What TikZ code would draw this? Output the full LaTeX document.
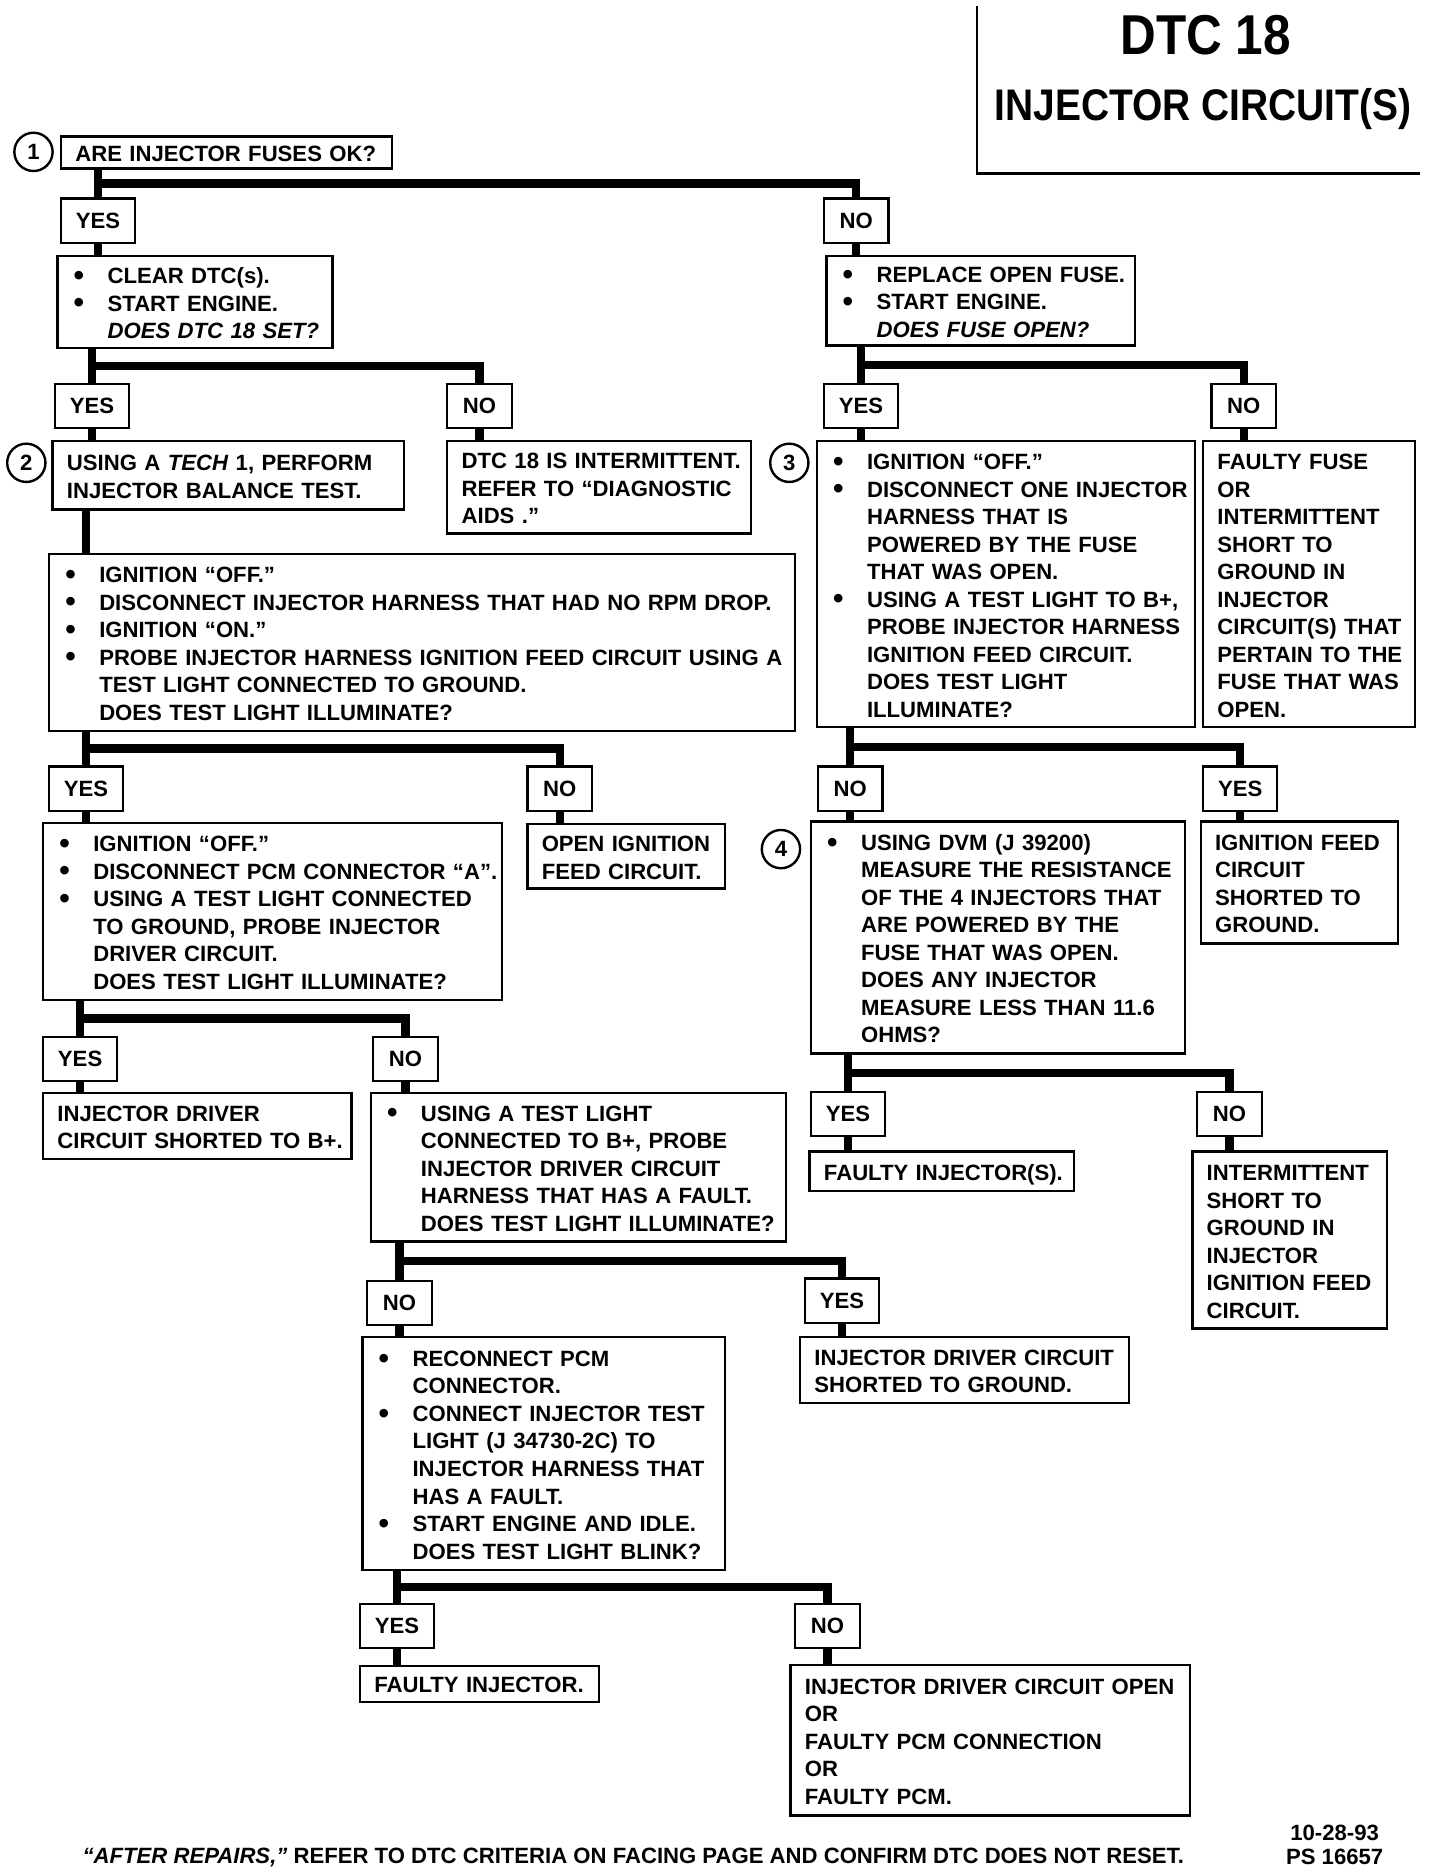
\documentclass[tikz,border=0pt]{standalone}
\usepackage{fontspec}
\setmainfont{Liberation Sans}
\newfontfamily\titlefont{Liberation Sans}[FakeStretch=0.88]
\usetikzlibrary{calc}
\newcommand{\bl}{\makebox[15pt][l]{\hspace{0.8pt}\raisebox{-0.7pt}{\fontsize{12.5}{12.5}\selectfont\textbullet}}}
\newcommand{\ind}{\hspace*{15pt}}
\newcommand{\tx}[1]{\raisebox{-1.5pt}[\height][\depth]{\begin{tabular}{@{}l@{}}#1\end{tabular}}}

\begin{document}
\begin{tikzpicture}[x=0.5pt,y=-0.5pt,
  every node/.style={font=\fontsize{9.25}{11.5}\selectfont\bfseries},
  stepbox/.style={draw,line width=1pt,anchor=north west,inner xsep=6pt,inner ysep=0pt,align=left,text width=#1},
  yesbox/.style={draw,line width=1pt,anchor=north west,minimum width=31pt,minimum height=18.5pt,inner sep=0pt},
  nobox/.style={yesbox,minimum width=27pt},
  numcircle/.style={draw,circle,line width=1pt,minimum size=16pt,inner sep=0pt},
  link/.style={line width=3.5pt}]
\useasboundingbox (0,0) rectangle (1204,1567);

% title
\draw[line width=1pt] (817,5) -- (817,145) -- (1187,145);
\node[font=\titlefont\bfseries\fontsize{23.5}{23.5}\selectfont] (dtc) at (1008,29) {DTC 18};
\node[font=\titlefont\bfseries\fontsize{18.5}{18.5}\selectfont] (circ) at (1006,91) {INJECTOR CIRCUIT(S)};

% steps
\node[stepbox=126.5pt,minimum height=13.5pt] (q1) at (50,113) {\tx{ARE INJECTOR FUSES OK?}};
\node[stepbox=103pt,minimum height=38.5pt] (q2) at (47,213) {\tx{\bl CLEAR DTC(s).\\ \bl START ENGINE.\\ \ind\textit{DOES DTC 18 SET?}}};
\node[stepbox=117pt,minimum height=37.5pt] (q3) at (690,213) {\tx{\bl REPLACE OPEN FUSE.\\ \bl START ENGINE.\\ \ind\textit{DOES FUSE OPEN?}}};
\node[stepbox=135pt,minimum height=28.5pt] (a1) at (43,368) {\tx{USING A \textit{TECH} 1, PERFORM\\ INJECTOR BALANCE TEST.}};
\node[stepbox=115pt,minimum height=38.5pt] (a2) at (373,368) {\tx{DTC 18 IS INTERMITTENT.\\ REFER TO “DIAGNOSTIC\\ AIDS .”}};
\node[stepbox=146pt,minimum height=119.5pt] (q4) at (682,368) {\tx{\bl IGNITION “OFF.”\\ \bl DISCONNECT ONE INJECTOR\\ \ind HARNESS THAT IS\\ \ind POWERED BY THE FUSE\\ \ind THAT WAS OPEN.\\ \bl USING A TEST LIGHT TO B+,\\ \ind PROBE INJECTOR HARNESS\\ \ind IGNITION FEED CIRCUIT.\\ \ind DOES TEST LIGHT\\ \ind ILLUMINATE?}};
\node[stepbox=76.5pt,minimum height=119.5pt] (r1) at (1005,368) {\tx{FAULTY FUSE\\ OR\\ INTERMITTENT\\ SHORT TO\\ GROUND IN\\ INJECTOR\\ CIRCUIT(S) THAT\\ PERTAIN TO THE\\ FUSE THAT WAS\\ OPEN.}};
\node[stepbox=300pt,minimum height=74pt] (q5) at (40,462) {\tx{\bl IGNITION “OFF.”\\ \bl DISCONNECT INJECTOR HARNESS THAT HAD NO RPM DROP.\\ \bl IGNITION “ON.”\\ \bl PROBE INJECTOR HARNESS IGNITION FEED CIRCUIT USING A\\ \ind TEST LIGHT CONNECTED TO GROUND.\\ \ind DOES TEST LIGHT ILLUMINATE?}};
\node[stepbox=180pt,minimum height=74pt] (q6) at (35,687) {\tx{\bl IGNITION “OFF.”\\ \bl DISCONNECT PCM CONNECTOR “A”.\\ \bl USING A TEST LIGHT CONNECTED\\ \ind TO GROUND, PROBE INJECTOR\\ \ind DRIVER CIRCUIT.\\ \ind DOES TEST LIGHT ILLUMINATE?}};
\node[stepbox=70.5pt,minimum height=27pt] (r2) at (440,688) {\tx{OPEN IGNITION\\ FEED CIRCUIT.}};
\node[stepbox=144.5pt,minimum height=97pt] (q7) at (677,686) {\tx{\bl USING DVM (J 39200)\\ \ind MEASURE THE RESISTANCE\\ \ind OF THE 4 INJECTORS THAT\\ \ind ARE POWERED BY THE\\ \ind FUSE THAT WAS OPEN.\\ \ind DOES ANY INJECTOR\\ \ind MEASURE LESS THAN 11.6\\ \ind OHMS?}};
\node[stepbox=70.5pt,minimum height=51pt] (r3) at (1003,686) {\tx{IGNITION FEED\\ CIRCUIT\\ SHORTED TO\\ GROUND.}};
\node[stepbox=117pt,minimum height=27.5pt] (r4) at (35,913) {\tx{INJECTOR DRIVER\\ CIRCUIT SHORTED TO B+.}};
\node[stepbox=161.5pt,minimum height=62pt] (q8) at (309,913) {\tx{\bl USING A TEST LIGHT\\ \ind CONNECTED TO B+, PROBE\\ \ind INJECTOR DRIVER CIRCUIT\\ \ind HARNESS THAT HAS A FAULT.\\ \ind DOES TEST LIGHT ILLUMINATE?}};
\node[stepbox=98.5pt,minimum height=16.5pt] (r5) at (676,962) {\tx{FAULTY INJECTOR(S).}};
\node[stepbox=69.5pt,minimum height=74pt] (r6) at (996,962) {\tx{INTERMITTENT\\ SHORT TO\\ GROUND IN\\ INJECTOR\\ IGNITION FEED\\ CIRCUIT.}};
\node[stepbox=139.5pt,minimum height=97.5pt] (q9) at (302,1117) {\tx{\bl RECONNECT PCM\\ \ind CONNECTOR.\\ \bl CONNECT INJECTOR TEST\\ \ind LIGHT (J 34730-2C) TO\\ \ind INJECTOR HARNESS THAT\\ \ind HAS A FAULT.\\ \bl START ENGINE AND IDLE.\\ \ind DOES TEST LIGHT BLINK?}};
\node[stepbox=125.5pt,minimum height=27.5pt] (r7) at (668,1117) {\tx{INJECTOR DRIVER CIRCUIT\\ SHORTED TO GROUND.}};
\node[stepbox=88pt,minimum height=15pt] (r8) at (300,1392) {\tx{FAULTY INJECTOR.}};
\node[stepbox=155pt,minimum height=63pt] (r9) at (660,1391) {\tx{INJECTOR DRIVER CIRCUIT OPEN\\ OR\\ FAULTY PCM CONNECTION\\ OR\\ FAULTY PCM.}};

\foreach \n/\px/\py in {1/28/127, 2/22/387, 3/660/387, 4/653/710}
  \node[numcircle] (c\n) at (\px,\py) {\n};

% answers
\foreach \nm/\px/\py in {yes1/50/165, yes2/45/320, yes3/688/320, yes4/40/640, yes5/1005/640, yes6/35/866, yes7/677/912, yes8/672/1068, yes9/300/1340}
  \node[yesbox] (\nm) at (\px,\py) {YES};
\foreach \nm/\px/\py in {no1/688/165, no2/373/320, no3/1012/320, no4/440/640, no5/683/640, no6/311/866, no7/1000/912, no8/306/1070, no9/664/1340}
  \node[nobox] (\nm) at (\px,\py) {NO};

% links
\foreach \q/\l/\r in {q1/yes1/no1, q2/yes2/no2, q3/yes3/no3, q5/yes4/no4, q4/no5/yes5, q6/yes6/no6, q7/yes7/no7, q8/no8/yes8, q9/yes9/no9}
{ \draw[link] (\l.north |- \q.south) -- (\l.north);
  \draw[link] ($(\l.north |- \q.south)!0.5!(\l.north)$) -| (\r.north); }
\foreach \a/\b in {yes1/q2, no1/q3, yes2/a1, no2/a2, yes3/q4, no3/r1, yes4/q6, no4/r2, no5/q7, yes5/r3, yes6/r4, no6/q8, yes7/r5, no7/r6, no8/q9, yes8/r7, yes9/r8, no9/r9}
  \draw[link] (\a.south) -- (\a.south |- \b.north);
\coordinate (a1x) at ([xshift=14.5pt]a1.south west);
\draw[link] (a1x) -- (a1x |- q5.north);

% footer
\node[anchor=west] (foot) at (62,1553) {\textit{“AFTER REPAIRS,”} REFER TO DTC CRITERIA ON FACING PAGE AND CONFIRM DTC DOES NOT RESET.};
\node[align=center,font=\fontsize{9.25}{10}\selectfont\bfseries] (date) at (1116,1543) {10-28-93\\PS 16657};
\end{tikzpicture}
\end{document}
